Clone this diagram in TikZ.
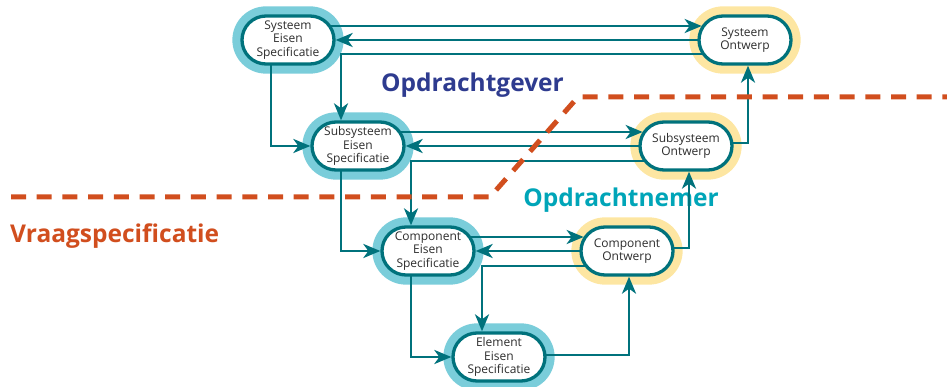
\documentclass[tikz,border=0pt]{standalone}
\usepackage{fontspec}
\setmainfont{Open Sans}
\usetikzlibrary{shapes.misc,arrows.meta,calc}

\definecolor{teal}{RGB}{0,114,124}
\definecolor{haloblue}{RGB}{122,205,218}
\definecolor{haloyellow}{RGB}{253,230,162}
\definecolor{dashorange}{RGB}{209,78,30}
\definecolor{clientblue}{RGB}{46,59,143}
\definecolor{contractorcyan}{RGB}{0,165,184}
\definecolor{labelgray}{RGB}{45,45,45}

\pgfdeclarelayer{halos}
\pgfdeclarelayer{links}
\pgfdeclarelayer{border}
\pgfsetlayers{halos,links,border,main}

\tikzset{
  stadium/.style={rounded rectangle, draw=teal, line width=3.3pt, fill=white,
    minimum width=92pt, minimum height=48pt, inner sep=0pt, align=center,
    font=\fontsize{12}{13.6}\selectfont, text=labelgray},
  halo/.style={rounded rectangle, fill=#1, draw=none,
    minimum width=111.3pt, minimum height=67.3pt, inner sep=0pt},
  link/.style={draw=teal, line width=2.9pt,
    -{Stealth[length=17pt,width=14pt,inset=5pt]}},
  boundary/.style={draw=dashorange, line width=5pt, dash pattern=on 15pt off 10.7pt},
  title/.style={font=\fontsize{24.5}{28}\selectfont\bfseries, anchor=base, inner sep=0pt}
}

% one stadium with its coloured halo behind it
\newcommand\stage[4]{%
  \node[stadium] (#1) at (#2) {#3};
  \begin{pgfonlayer}{halos}
    \node[halo=#4] (#1-halo) at (#2) {};
  \end{pgfonlayer}}

\begin{document}
\begin{tikzpicture}[x=1pt,y=-1pt]
\useasboundingbox (0,0) rectangle (947,387);

% requirement specifications (left) and designs (right)
\stage{SES}{288,40}{Systeem\\Eisen\\Specificatie}{haloblue}
\stage{SO}{745,40}{Systeem\\Ontwerp}{haloyellow}
\stage{SubES}{358,146}{Subsysteem\\Eisen\\Specificatie}{haloblue}
\stage{SubO}{686,146}{Subsysteem\\Ontwerp}{haloyellow}
\stage{CES}{428,251}{Component\\Eisen\\Specificatie}{haloblue}
\stage{CO}{627,251}{Component\\Ontwerp}{haloyellow}
\stage{EES}{499,357}{Element\\Eisen\\Specificatie}{haloblue}

% party labels
\begin{pgfonlayer}{halos}
  \node[title, text=clientblue] (client) at (472.5,92) {Opdrachtgever};
  \node[title, text=contractorcyan] (contractor) at (621,207) {Opdrachtnemer};
  \node[title, text=dashorange, anchor=base west] (demand) at (10,243) {Vraagspecificatie};
\end{pgfonlayer}

% boundary between client and contractor
\coordinate (b1) at (11,197);
\coordinate (b2) at (490,197);
\coordinate (b3) at (578,97);
\coordinate (b4) at (947,97);
\begin{pgfonlayer}{border}
  \draw[boundary] (b1) -- (b2) -- (b3) -- (b4);
\end{pgfonlayer}

\begin{pgfonlayer}{links}
  % system level
  \draw[link] ($(SES.center)+(0,-14)$) -- ($(SO.west)+(4.3,-14)$);
  \draw[link] (SO.center) -- (SES.east);
  \draw[link] ($(SO.center)+(0,14)$) -| ($(SubES.north)+(-17,0)$);
  \draw[link] ($(SES.center)+(-17,0)$) |- (SubES.west);
  % subsystem level
  \draw[link] ($(SubES.center)+(0,-14)$) -- ($(SubO.west)+(4.3,-14)$);
  \draw[link] (SubO.center) -- (SubES.east);
  \draw[link] ($(SubO.center)+(0,15)$) -| ($(CES.north)+(-17,0)$);
  \draw[link] ($(SubES.center)+(-17,0)$) |- (CES.west);
  \draw[link] ($(SubO.center)+(0,-3)$) -| ($(SO.south)+(3,0)$);
  % component level
  \draw[link] ($(CES.center)+(0,-14)$) -- ($(CO.west)+(4.3,-14)$);
  \draw[link] (CO.center) -- (CES.east);
  \draw[link] ($(CO.center)+(0,15)$) -| ($(EES.north)+(-17,0)$);
  \draw[link] ($(CES.center)+(-17,0)$) |- (EES.west);
  \draw[link] ($(CO.center)+(0,-3)$) -| ($(SubO.south)+(3,0)$);
  % element level
  \draw[link] ($(EES.center)+(0,-2)$) -| ($(CO.south)+(2,0)$);
\end{pgfonlayer}
\end{tikzpicture}
\end{document}
